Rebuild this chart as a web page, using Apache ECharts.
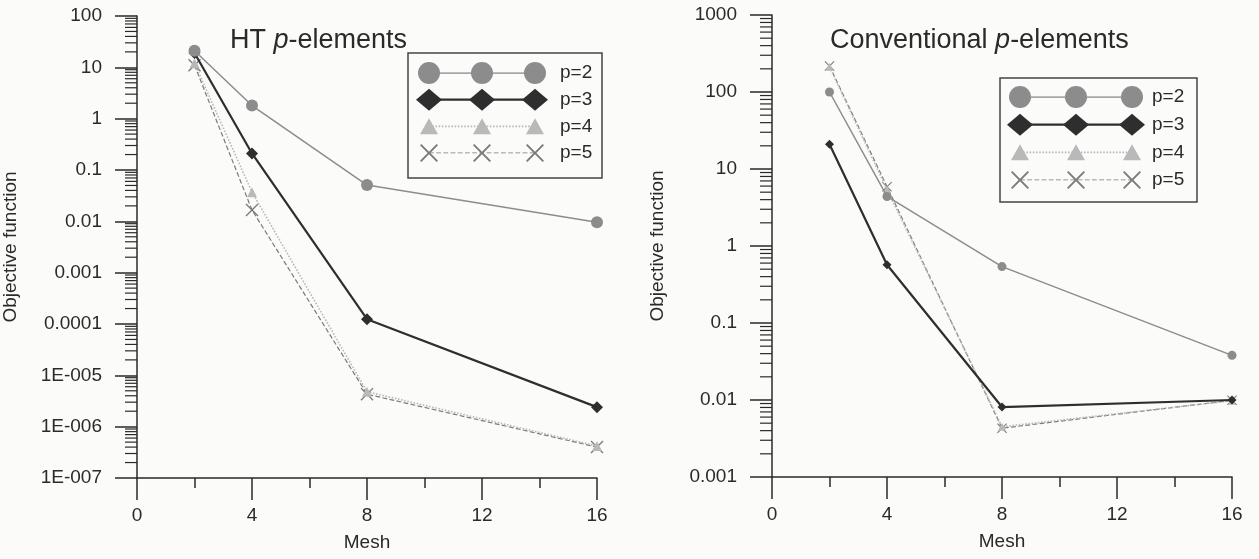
<!DOCTYPE html>
<html>
<head>
<meta charset="utf-8">
<script src="https://cdn.jsdelivr.net/npm/echarts@6/dist/echarts.min.js"></script>
<style>
html, body { margin: 0; padding: 0; background: #fbfbfa; }
#chart { width: 1259px; height: 559px; }
</style>
</head>
<body>
<div id="chart"></div>
<script>
// mesh values on x
var mesh = [2, 4, 8, 16];
var meshTicks = [0, 4, 8, 12, 16];

// HT p-elements (left)
var htP2 = [21, 1.8, 0.051, 0.0096];
var htP3 = [19, 0.21, 0.000124, 0.0000024];
var htP4 = [12, 0.037, 0.0000048, 0.00000042];
var htP5 = [11, 0.0166, 0.0000043, 0.0000004];

// Conventional p-elements (right)
var cpP2 = [100, 4.4, 0.54, 0.038];
var cpP3 = [21, 0.57, 0.0081, 0.0100];
var cpP4 = [212, 5.4, 0.0045, 0.0098];
var cpP5 = [218, 5.9, 0.0043, 0.0099];

var names = ['p=2', 'p=3', 'p=4', 'p=5'];

// y tick labels, from the lowest decade up
var htTicks = ['1E-007', '1E-006', '1E-005', '0.0001', '0.001', '0.01', '0.1', '1', '10', '100'];
var htMinExp = -7;
var cpTicks = ['0.001', '0.01', '0.1', '1', '10', '100', '1000'];
var cpMinExp = -3;
var minorSteps = [2, 3, 4, 5, 6, 7, 8, 9];

var font = '"Liberation Sans", Arial, sans-serif';
var ink = '#2a2a2a';
var xMark = 'path://M0,1.5L1.5,0L10,8.5L18.5,0L20,1.5L11.5,10L20,18.5L18.5,20L10,11.5L1.5,20L0,18.5L8.5,10Z';

// look of each p series: plot symbol size, legend symbol size
var looks = [
	{color: '#8c8c8c', symbol: 'circle',   size: 12, small: 9,  legend: 22,       type: 'solid',  width: 1.5},
	{color: '#2e2e2e', symbol: 'diamond',  size: 12, small: 9,  legend: [26, 22], type: 'solid',  width: 2.2},
	{color: '#b9b9b9', symbol: 'triangle', size: 10, small: 8,  legend: [18, 16], type: 'dotted', width: 1.6},
	{color: '#7a7a7a', symbol: xMark,      size: 13, small: 10, legend: 18,       type: 'dashed', width: 1.2}
];

function pairs(xs, ys) {
	var out = [];
	for (var i = 0; i < xs.length; i++) out.push([xs[i], ys[i]]);
	return out;
}

function minorValues(minExp, maxExp) {
	var out = [];
	for (var e = minExp; e < maxExp; e++) {
		for (var k = 0; k < minorSteps.length; k++) {
			out.push([0, minorSteps[k] * Math.pow(10, e)]);
		}
	}
	return out;
}

function xAxisFor(gridIndex) {
	return {
		type: 'value', gridIndex: gridIndex, min: 0, max: 16, interval: 4,
		name: 'Mesh', nameLocation: 'middle', nameGap: 55,
		nameTextStyle: {fontFamily: font, fontSize: 19, color: ink},
		axisLine: {lineStyle: {color: ink, width: 1.5}},
		axisTick: {length: 22, lineStyle: {color: ink, width: 1.5}},
		minorTick: {show: true, splitNumber: 2, length: 10, lineStyle: {color: ink, width: 1.5}},
		axisLabel: {fontFamily: font, fontSize: 19, color: ink, margin: 28},
		splitLine: {show: false}
	};
}

function yAxisFor(gridIndex, labels, minExp, nameGap) {
	var maxExp = minExp + labels.length - 1;
	return {
		type: 'log', logBase: 10, gridIndex: gridIndex,
		min: Math.pow(10, minExp), max: Math.pow(10, maxExp), splitNumber: 10,
		name: 'Objective function', nameLocation: 'middle', nameGap: nameGap,
		nameTextStyle: {fontFamily: font, fontSize: 19, color: ink},
		axisLine: {lineStyle: {color: ink, width: 1.5}},
		axisTick: {length: 22, lineStyle: {color: ink, width: 1.5}},
		axisLabel: {
			fontFamily: font, fontSize: 19, color: ink, margin: 35,
			formatter: function(v) {
				var e = Math.round(Math.log10(v));
				return labels[e - minExp];
			}
		},
		splitLine: {show: false}
	};
}

function hiddenAxis(gridIndex, max, inverse) {
	return {type: 'value', gridIndex: gridIndex, min: 0, max: max, inverse: inverse, show: false};
}

// minor ticks of the log axes, drawn against the axis scale
function minorTickSeries(gridIndex, minExp, maxExp) {
	return {
		type: 'custom', xAxisIndex: gridIndex, yAxisIndex: gridIndex,
		silent: true, clip: false, z: 1,
		data: minorValues(minExp, maxExp),
		encode: {x: 0, y: 1},
		renderItem: function(params, api) {
			var p = api.coord([0, api.value(1)]);
			return {
				type: 'line',
				shape: {x1: p[0] - 12, y1: p[1], x2: p[0], y2: p[1]},
				style: {stroke: ink, lineWidth: 1.2}
			};
		}
	};
}

function plotSeries(gridIndex, values, small) {
	var out = [];
	for (var i = 0; i < values.length; i++) {
		var lk = looks[i];
		out.push({
			type: 'line', name: names[i], xAxisIndex: gridIndex, yAxisIndex: gridIndex,
			data: pairs(mesh, values[i]),
			symbol: lk.symbol, symbolSize: small ? lk.small : lk.size,
			showAllSymbol: true, z: 10 - i,
			lineStyle: {color: lk.color, width: lk.width, type: lk.type},
			itemStyle: {color: lk.color, opacity: 1}
		});
	}
	return out;
}

function legendSeries(gridIndex) {
	var out = [];
	for (var i = 0; i < names.length; i++) {
		var lk = looks[i];
		out.push({
			type: 'line', xAxisIndex: gridIndex, yAxisIndex: gridIndex, silent: true,
			data: [[0, i], [1, i], {value: [2, i], label: {show: true}}],
			symbol: lk.symbol, symbolSize: lk.legend,
			lineStyle: {color: lk.color, width: lk.width, type: lk.type},
			itemStyle: {color: lk.color},
			label: {
				show: false, position: 'inside', align: 'left', offset: [gridIndex == 2 ? 25 : 20, 0],
				formatter: names[i], fontFamily: font, fontSize: 19, color: ink
			}
		});
	}
	return out;
}

var chart = echarts.init(document.getElementById('chart'));

var titleRich = {
	a: {fontFamily: font, fontSize: 27, color: ink, fontWeight: 'normal'},
	b: {fontFamily: font, fontSize: 27, color: ink, fontWeight: 'normal', fontStyle: 'italic'}
};

var series = []
	.concat(minorTickSeries(0, -7, 2))
	.concat(minorTickSeries(1, -3, 3))
	.concat(plotSeries(0, [htP2, htP3, htP4, htP5], false))
	.concat(plotSeries(1, [cpP2, cpP3, cpP4, cpP5], true))
	.concat(legendSeries(2))
	.concat(legendSeries(3));

var option = {
	backgroundColor: '#fbfbfa',
	animation: false,
	title: [
		{left: 225, top: 22, text: '{a|HT }{b|p}{a|-elements}',
			textStyle: {fontWeight: 'normal', rich: titleRich}},
		{left: 825, top: 22, text: '{a|Conventional }{b|p}{a|-elements}',
			textStyle: {fontWeight: 'normal', rich: titleRich}}
	],
	grid: [
		{left: 135, top: 16, width: 462, height: 462},
		{left: 772, top: 15, width: 460, height: 462},
		{left: 429, top: 73, width: 106, height: 80},
		{left: 1020, top: 97, width: 112, height: 83}
	],
	xAxis: [xAxisFor(0), xAxisFor(1), hiddenAxis(2, 2, false), hiddenAxis(3, 2, false)],
	yAxis: [yAxisFor(0, htTicks, htMinExp, 117), yAxisFor(1, cpTicks, cpMinExp, 105),
		hiddenAxis(2, 3, true), hiddenAxis(3, 3, true)],
	graphic: [
		{type: 'rect', shape: {x: 408, y: 53, width: 194, height: 125},
			style: {fill: 'none', stroke: '#444', lineWidth: 1.5}, z: 0},
		{type: 'rect', shape: {x: 1000, y: 78, width: 197, height: 124},
			style: {fill: 'none', stroke: '#444', lineWidth: 1.5}, z: 0}
	],
	series: series
};

chart.setOption(option);
</script>
</body>
</html>
